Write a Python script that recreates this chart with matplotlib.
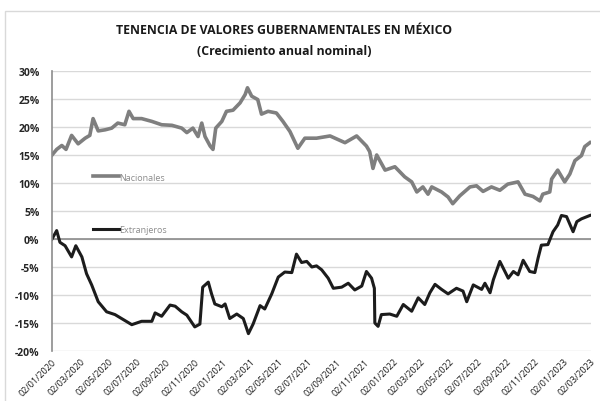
import datetime
import matplotlib
matplotlib.use("Agg")
from matplotlib import pyplot as plt
import matplotlib.dates as mdates
from matplotlib.ticker import FuncFormatter

# Datos (fecha, crecimiento anual %)
fechas_nac = ["2020-01-02", "2020-01-12", "2020-01-23", "2020-02-01", "2020-02-13", "2020-02-27",
              "2020-03-13", "2020-03-23", "2020-03-30", "2020-04-10", "2020-04-25", "2020-05-09",
              "2020-05-22", "2020-06-06", "2020-06-15", "2020-06-24", "2020-07-12", "2020-08-03",
              "2020-08-24", "2020-09-15", "2020-10-06", "2020-10-17", "2020-10-30", "2020-11-10",
              "2020-11-18", "2020-11-25", "2020-12-06", "2020-12-12", "2020-12-18", "2020-12-31",
              "2021-01-10", "2021-01-24", "2021-02-08", "2021-02-19", "2021-02-24", "2021-03-05",
              "2021-03-18", "2021-03-26", "2021-04-09", "2021-04-27", "2021-05-11", "2021-05-26",
              "2021-06-12", "2021-06-27", "2021-07-22", "2021-08-20", "2021-09-21", "2021-10-16",
              "2021-11-06", "2021-11-13", "2021-11-20", "2021-11-28", "2021-12-16", "2022-01-06",
              "2022-01-27", "2022-02-11", "2022-02-22", "2022-03-07", "2022-03-18", "2022-03-26",
              "2022-04-16", "2022-04-30", "2022-05-10", "2022-05-25", "2022-06-16", "2022-06-30",
              "2022-07-14", "2022-08-01", "2022-08-19", "2022-09-05", "2022-09-27", "2022-10-12",
              "2022-10-29", "2022-11-13", "2022-11-19", "2022-12-04", "2022-12-08", "2022-12-21",
              "2023-01-05", "2023-01-16", "2023-01-27", "2023-02-10", "2023-02-17", "2023-02-28"]
nacionales = [15.0, 16.0, 16.7, 16.0, 18.5, 17.0,
              18.0, 18.5, 21.5, 19.3, 19.5, 19.8,
              20.7, 20.4, 22.8, 21.5, 21.5, 21.0,
              20.4, 20.3, 19.8, 19.0, 19.8, 18.3,
              20.7, 18.3, 16.6, 16.0, 19.8, 21.0,
              22.8, 23.0, 24.3, 25.8, 27.0, 25.5,
              24.9, 22.3, 22.8, 22.5, 21.0, 19.2,
              16.2, 18.0, 18.0, 18.4, 17.2, 18.4,
              16.6, 15.6, 12.6, 15.0, 12.3, 12.9,
              11.1, 10.2, 8.4, 9.3, 8.0, 9.3,
              8.4, 7.5, 6.3, 7.7, 9.3, 9.5,
              8.5, 9.3, 8.7, 9.8, 10.2, 8.0,
              7.6, 6.8, 8.0, 8.4, 10.7, 12.3,
              10.2, 11.6, 14.0, 14.9, 16.5, 17.2]

fechas_ext = ["2020-01-02", "2020-01-12", "2020-01-19", "2020-01-30", "2020-02-13", "2020-02-22",
              "2020-03-06", "2020-03-16", "2020-03-27", "2020-04-10", "2020-04-28", "2020-05-16",
              "2020-06-03", "2020-06-21", "2020-07-12", "2020-08-03", "2020-08-10", "2020-08-24",
              "2020-09-11", "2020-09-22", "2020-10-06", "2020-10-17", "2020-11-03", "2020-11-14",
              "2020-11-20", "2020-12-02", "2020-12-09", "2020-12-16", "2020-12-31", "2021-01-07",
              "2021-01-17", "2021-02-01", "2021-02-15", "2021-02-26", "2021-03-08", "2021-03-23",
              "2021-04-02", "2021-04-17", "2021-05-01", "2021-05-15", "2021-05-30", "2021-06-09",
              "2021-06-20", "2021-07-01", "2021-07-12", "2021-07-22", "2021-08-02", "2021-08-16",
              "2021-08-27", "2021-09-14", "2021-09-28", "2021-10-12", "2021-10-27", "2021-11-06",
              "2021-11-17", "2021-11-23", "2021-11-24", "2021-12-01", "2021-12-08", "2021-12-26",
              "2022-01-10", "2022-01-24", "2022-02-11", "2022-02-25", "2022-03-11", "2022-03-22",
              "2022-04-02", "2022-04-16", "2022-04-30", "2022-05-18", "2022-06-01", "2022-06-09",
              "2022-06-23", "2022-07-11", "2022-07-18", "2022-07-29", "2022-08-05", "2022-08-19",
              "2022-09-06", "2022-09-17", "2022-09-27", "2022-10-08", "2022-10-22", "2022-11-02",
              "2022-11-09", "2022-11-16", "2022-11-30", "2022-12-11", "2022-12-21", "2022-12-29",
              "2023-01-09", "2023-01-23", "2023-01-31", "2023-02-10", "2023-02-28"]
extranjeros = [0.0, 1.5, -0.6, -1.2, -3.2, -1.2,
               -3.2, -6.2, -8.2, -11.2, -13.0, -13.5,
               -14.4, -15.3, -14.7, -14.7, -13.2, -13.8,
               -11.8, -12.0, -13.0, -13.6, -15.7, -15.2,
               -8.6, -7.7, -9.8, -11.6, -12.1, -11.6,
               -14.2, -13.4, -14.2, -16.9, -15.2, -11.9,
               -12.5, -9.8, -6.8, -5.9, -6.0, -2.7,
               -4.2, -4.0, -5.0, -4.8, -5.5, -7.0,
               -8.8, -8.6, -7.9, -9.1, -8.4, -5.8,
               -7.0, -8.8, -15.0, -15.6, -13.5, -13.4,
               -13.8, -11.7, -12.9, -10.5, -11.7, -9.6,
               -8.1, -9.0, -9.8, -8.8, -9.3, -11.2,
               -8.2, -9.0, -7.9, -9.6, -7.3, -4.0,
               -7.0, -5.8, -6.4, -3.8, -5.8, -6.0,
               -3.4, -1.1, -1.0, 1.3, 2.5, 4.2,
               4.0, 1.3, 3.1, 3.6, 4.2]

fechas_ticks = ["2020-01-02", "2020-03-02", "2020-05-02", "2020-07-02", "2020-09-02", "2020-11-02",
                "2021-01-02", "2021-03-02", "2021-05-02", "2021-07-02", "2021-09-02", "2021-11-02",
                "2022-01-02", "2022-03-02", "2022-05-02", "2022-07-02", "2022-09-02", "2022-11-02",
                "2023-01-02", "2023-03-02"]


def to_dates(lista):
    return [datetime.datetime.strptime(f, "%Y-%m-%d") for f in lista]


plt.rcParams['font.family'] = ['Open Sans', 'DejaVu Sans']

fig = plt.figure(figsize=(6.0, 4.02), dpi=100)
ax = fig.add_axes([0.0867, 0.1244, 0.898, 0.6965])

# marco exterior del grafico
fig.patches.append(plt.Rectangle((0.008, -0.01), 1.0, 0.98, transform=fig.transFigure,
                                 fill=False, edgecolor="#d9d9d9", linewidth=1))

ax.plot(to_dates(fechas_nac), nacionales, color="#7f7f7f", linewidth=2.6, label="Nacionales")
ax.plot(to_dates(fechas_ext), extranjeros, color="#1c1c1c", linewidth=2.2, label="Extranjeros")

ax.set_ylim(-20, 30)
ax.set_yticks(range(-20, 31, 5))
ax.yaxis.set_major_formatter(FuncFormatter(lambda v, p: "{0:.0f}%".format(v)))
ax.grid(axis="y", color="#d9d9d9", linewidth=1)
ax.set_axisbelow(True)
ax.axhline(0, color="#8c8c8c", linewidth=1.2, zorder=1)

ticks = to_dates(fechas_ticks)
ax.set_xlim(ticks[0], ticks[-1])
ax.set_xticks(ticks)
ax.xaxis.set_major_formatter(mdates.DateFormatter("%d/%m/%Y"))
for lbl in ax.get_xticklabels():
    lbl.set_rotation(45)
    lbl.set_ha("right")
    lbl.set_rotation_mode("anchor")
    lbl.set_fontsize(6.5)
    lbl.set_color("#1a1a1a")
for lbl in ax.get_yticklabels():
    lbl.set_fontsize(7.5)
    lbl.set_fontweight("bold")
    lbl.set_color("#262626")

ax.tick_params(axis="both", length=0)
ax.tick_params(axis="y", pad=9)
ax.tick_params(axis="x", pad=4)

for s in ["top", "right", "bottom"]:
    ax.spines[s].set_visible(False)
ax.spines["left"].set_color("#8c8c8c")
ax.spines["left"].set_linewidth(1.2)

leg = ax.legend(loc="upper left", bbox_to_anchor=(0.07, 0.65), frameon=False,
                fontsize=6.5, labelspacing=4.85, handlelength=2.8, handletextpad=0.1,
                borderaxespad=0)
for t in leg.get_texts():
    t.set_color("#8c8c8c")

fig.text(0.473, 0.925, "TENENCIA DE VALORES GUBERNAMENTALES EN MÉXICO", ha="center", va="center",
         fontsize=8.8, fontweight="bold", color="#1a1a1a")
fig.text(0.473, 0.873, "(Crecimiento anual nominal)", ha="center", va="center",
         fontsize=8.8, fontweight="bold", color="#1a1a1a")

fig.savefig("out.png", dpi=100)
